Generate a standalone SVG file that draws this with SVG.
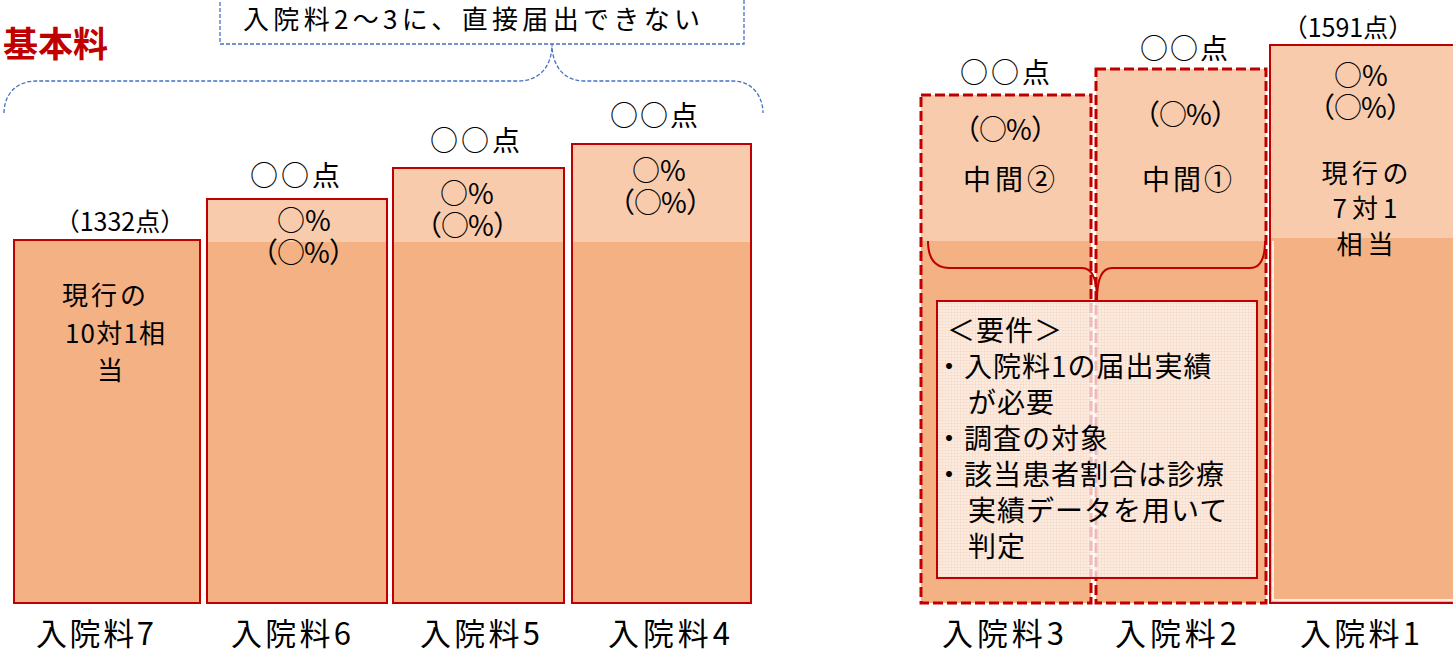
<svg xmlns="http://www.w3.org/2000/svg" width="1453" height="653" viewBox="0 0 1453 653">
<defs>
<style>
text{font-family:"Noto Sans CJK JP","Noto Sans",sans-serif;fill:#000;}
.t24{font-size:24px;}
.t26{font-size:26px;}
.t28{font-size:28px;}
.pc{letter-spacing:-1px;}
.lab{font-size:31px;text-anchor:middle;}
.m{text-anchor:middle;}
.light{fill:#F8CBAD;}
.dark{fill:#F4B183;}
.solid{fill:none;stroke:#C00000;stroke-width:2;}
.dash{fill:none;stroke:#C00000;stroke-width:3;stroke-dasharray:10 4;}
.blue{fill:none;stroke:#4472C4;stroke-width:1.3;stroke-dasharray:4 2;}
.req{font-size:28px;letter-spacing:1px;}
</style>
<pattern id="grid" width="3" height="3" patternUnits="userSpaceOnUse">
<rect width="3" height="3" fill="#FFFFFF" fill-opacity="0.74"/>
<path d="M0 0.5H3M0.5 0V3" stroke="#E8B49A" stroke-width="0.5" stroke-opacity="0.35"/>
</pattern>
</defs>
<rect width="1453" height="653" fill="#FFFFFF"/>

<g id="title">
<text x="108" y="57" style="font-size:35px;font-weight:bold;fill:#C00000;text-anchor:end">基本料</text>
</g>

<g id="note">
<rect x="220" y="-10" width="524" height="54" class="blue" fill="#FFFFFF"/>
<text x="243" y="29" class="t26" textLength="457" lengthAdjust="spacing">入院料2～3に、直接届出できない</text>
</g>

<g id="bar7">
<rect x="14" y="240" width="186" height="363" class="dark"/>
<rect x="14" y="240" width="186" height="363" class="solid"/>
<text x="120" y="231" class="m" style="font-size:25px">（1332点）</text>
<text x="104" y="305" class="t26 m" textLength="84" lengthAdjust="spacing">現行の</text>
<text x="115" y="343" class="t26 m" textLength="100" lengthAdjust="spacing">10対1相</text>
<text x="110" y="380" class="t26 m">当</text>
<text x="95" y="645" class="lab" textLength="118" lengthAdjust="spacing">入院料7</text>
</g>

<g id="bar6">
<rect x="207" y="199" width="180" height="43" class="light"/>
<rect x="207" y="242" width="180" height="361" class="dark"/>
<rect x="207" y="199" width="180" height="404" class="solid"/>
<text x="295" y="186" class="t28 m" textLength="90" lengthAdjust="spacing">○○点</text>
<text class="t28 m"><tspan x="304" y="231">○%</tspan><tspan x="303" y="263" class="pc">（○%）</tspan></text>
<text x="291" y="645" class="lab" textLength="120" lengthAdjust="spacing">入院料6</text>
</g>

<g id="bar5">
<rect x="393" y="168" width="171" height="74" class="light"/>
<rect x="393" y="242" width="172" height="361" class="dark"/>
<rect x="393" y="168" width="171" height="435" class="solid"/>
<text x="475" y="151" class="t28 m" textLength="90" lengthAdjust="spacing">○○点</text>
<text class="t28 m"><tspan x="467" y="204">○%</tspan><tspan x="467" y="236" class="pc">（○%）</tspan></text>
<text x="480" y="645" class="lab" textLength="120" lengthAdjust="spacing">入院料5</text>
</g>

<g id="bar4">
<rect x="572" y="144" width="179" height="98" class="light"/>
<rect x="572" y="242" width="180" height="361" class="dark"/>
<rect x="572" y="144" width="179" height="459" class="solid"/>
<text x="654" y="126" class="t28 m" textLength="88" lengthAdjust="spacing">○○点</text>
<text class="t28 m"><tspan x="659" y="181">○%</tspan><tspan x="660" y="213" class="pc">（○%）</tspan></text>
<text x="669" y="645" class="lab" textLength="122" lengthAdjust="spacing">入院料4</text>
</g>

<g id="bar3">
<rect x="921" y="95" width="170" height="146" class="light"/>
<rect x="921" y="241" width="170" height="362" class="dark"/>
<rect x="921" y="95" width="170" height="508" class="dash"/>
<text x="1005" y="83" class="t28 m" textLength="90" lengthAdjust="spacing">○○点</text>
<text x="1005" y="140" class="t28 pc m">（○%）</text>
<text x="1009" y="190" class="t28 m" textLength="92" lengthAdjust="spacing">中間②</text>
<text x="1003" y="645" class="lab" textLength="122" lengthAdjust="spacing">入院料3</text>
</g>

<g id="bar2">
<rect x="1096" y="69" width="170" height="172" class="light"/>
<rect x="1096" y="241" width="170" height="362" class="dark"/>
<rect x="1096" y="69" width="170" height="534" class="dash"/>
<text x="1184" y="59" class="t28 m" textLength="88" lengthAdjust="spacing">○○点</text>
<text x="1185" y="125" class="t28 pc m">（○%）</text>
<text x="1187" y="190" class="t28 m" textLength="90" lengthAdjust="spacing">中間①</text>
<text x="1176" y="645" class="lab" textLength="122" lengthAdjust="spacing">入院料2</text>
</g>

<g id="bar1">
<rect x="1270" y="45" width="190" height="193" class="light"/>
<rect x="1270" y="238" width="190" height="365" class="dark"/>
<path d="M1273,241 V600 H1460" fill="none" stroke="#FFFFFF" stroke-width="1.5"/>
<rect x="1270" y="45" width="190" height="558" class="solid"/>
<text x="1348" y="37" class="m" style="font-size:25px">（1591点）</text>
<text class="t28 m"><tspan x="1361" y="86">○%</tspan><tspan x="1360" y="118" class="pc">（○%）</tspan></text>
<text class="t26 m"><tspan x="1365" y="183" textLength="87" lengthAdjust="spacing">現行の</tspan><tspan x="1365" y="218" textLength="65" lengthAdjust="spacing">7対1</tspan><tspan x="1365" y="254" textLength="57" lengthAdjust="spacing">相当</tspan></text>
<text x="1360" y="645" class="lab" textLength="120" lengthAdjust="spacing">入院料1</text>
</g>

<g id="requirements">
<rect x="937" y="301" width="320" height="277" fill="url(#grid)" stroke="#C00000" stroke-width="2"/>
<text class="req"><tspan x="947" y="341">＜要件＞</tspan><tspan x="935" y="377">・入院料1の届出実績</tspan><tspan x="968" y="413">が必要</tspan><tspan x="935" y="449">・調査の対象</tspan><tspan x="935" y="485">・該当患者割合は診療</tspan><tspan x="968" y="521">実績データを用いて</tspan><tspan x="968" y="557">判定</tspan></text>
</g>

<g id="connectors">
<path class="blue" d="M4,113 C4,95 16,81 36,81 L518,81 C540,81 552,66 552,44 C552,66 564,81 584,81 L733,81 C752,81 763,96 763,113"/>
<path d="M928,241 C928,258 934,268 950,268 L1082,268 C1092,268 1097,280 1097,300 C1097,280 1102,268 1112,268 L1250,268 C1260,268 1265,258 1265,241" fill="none" stroke="#C00000" stroke-width="2"/>
</g>
</svg>
